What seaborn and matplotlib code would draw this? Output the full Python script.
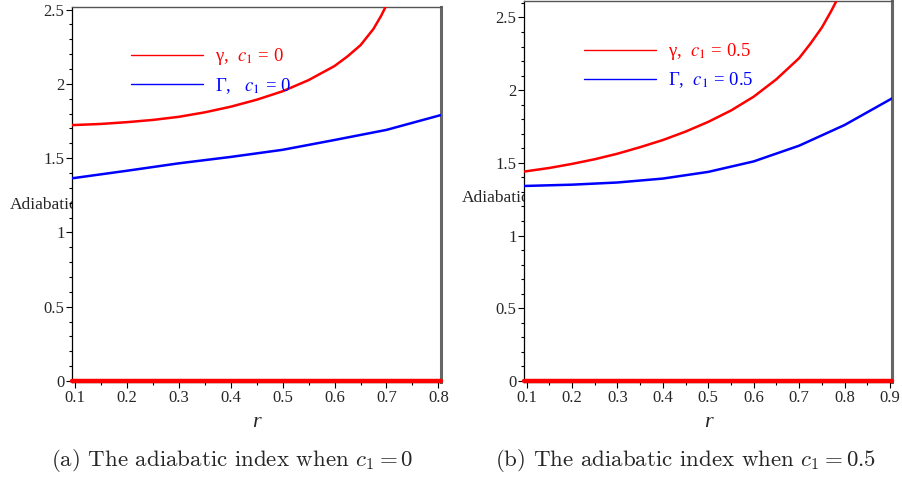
import numpy as np
import pandas as pd
import seaborn as sns
import matplotlib
matplotlib.use("Agg")
import matplotlib.pyplot as plt
from matplotlib.ticker import MultipleLocator

# ---- data ----
r_a = [0.094, 0.15, 0.2, 0.25, 0.3, 0.35, 0.4, 0.45, 0.5, 0.55, 0.6, 0.625, 0.65, 0.675, 0.69, 0.7]
gamma_a = [1.722, 1.730, 1.742, 1.757, 1.778, 1.808, 1.846, 1.893, 1.950, 2.025, 2.120, 2.185, 2.26, 2.37, 2.46, 2.53]
R_a = [0.094, 0.2, 0.3, 0.4, 0.5, 0.6, 0.7, 0.805]
Gamma_a = [1.364, 1.415, 1.465, 1.508, 1.556, 1.622, 1.690, 1.790]

r_b = [0.094, 0.15, 0.2, 0.25, 0.3, 0.35, 0.4, 0.45, 0.5, 0.55, 0.6, 0.65, 0.7, 0.725, 0.75, 0.77, 0.785]
gamma_b = [1.440, 1.465, 1.493, 1.525, 1.563, 1.608, 1.657, 1.715, 1.782, 1.860, 1.955, 2.075, 2.220, 2.320, 2.430, 2.540, 2.630]
R_b = [0.094, 0.2, 0.3, 0.4, 0.5, 0.6, 0.7, 0.8, 0.905]
Gamma_b = [1.341, 1.350, 1.365, 1.392, 1.438, 1.510, 1.618, 1.760, 1.944]

zero_x_a = [0.094, 0.805]
zero_x_b = [0.094, 0.905]
zero_y = [0.0, 0.0]

labels_a = [r"γ,  $c_1$ = 0", r"Γ,   $c_1$ = 0"]
labels_b = [r"γ,  $c_1$ = 0.5", r"Γ,  $c_1$ = 0.5"]
captions = [r"(a) The adiabatic index when $c_1 = 0$",
            r"(b) The adiabatic index when $c_1 = 0.5$"]
ylabel = "Adiabatic"
xlabel = "r"

sns.set_theme(style="white")
plt.rcParams["font.family"] = ["Liberation Serif", "DejaVu Serif"]
plt.rcParams["mathtext.fontset"] = "stix"

fig = plt.figure(figsize=(9.02, 4.8), dpi=100)
W, H = 902, 480

def px_axes(l, t, r, b):
    return fig.add_axes([l / W, 1 - b / H, (r - l) / W, (b - t) / H])

axA = px_axes(72, 7, 441, 382)
axB = px_axes(524, 1, 892, 382)

panels = [
    (axA, r_a, gamma_a, R_a, Gamma_a, zero_x_a, labels_a, (0.0942, 0.805), (-0.0067, 2.517), 0.8, (0.115, 0.94)),
    (axB, r_b, gamma_b, R_b, Gamma_b, zero_x_b, labels_b, (0.0941, 0.9046), (-0.0069, 2.613), 0.9, (0.118, 0.939)),
]

for ax, rx, g, Rx, G, zx, labs, xl, yl, xmax, lpos in panels:
    sns.lineplot(x=zx, y=zero_y, ax=ax, color="#ff0000", linewidth=3.2, zorder=5, clip_on=False)
    sns.lineplot(x=rx, y=g, ax=ax, color="#ff0000", linewidth=1.8, zorder=4)
    sns.lineplot(x=Rx, y=G, ax=ax, color="#0000ff", linewidth=1.8, zorder=4)
    ax.set_xlim(*xl)
    ax.set_ylim(*yl)
    xt = np.round(np.arange(0.1, xmax + 0.001, 0.1), 1)
    ax.set_xticks(xt)
    ax.set_xticklabels([f"{v:.1f}" for v in xt])
    ax.set_yticks([0, 0.5, 1, 1.5, 2, 2.5])
    ax.set_yticklabels(["0", "0.5", "1", "1.5", "2", "2.5"])
    ax.xaxis.set_minor_locator(MultipleLocator(0.05))
    ax.yaxis.set_minor_locator(MultipleLocator(0.1))
    ax.tick_params(axis="both", which="major", direction="out", length=4, width=0.8,
                   color="black", labelsize=12, pad=1.5, bottom=True, left=True)
    ax.tick_params(axis="both", which="minor", direction="out", length=2, width=0.8,
                   color="black", bottom=True, left=True)
    for s in ["left", "bottom"]:
        ax.spines[s].set_color("black")
        ax.spines[s].set_linewidth(0.9)
    ax.spines["top"].set_color("#555555")
    ax.spines["top"].set_linewidth(1.0)
    ax.spines["right"].set_color("#666666")
    ax.spines["right"].set_linewidth(2.2)
    ax.set_xlabel(xlabel, fontsize=16, style="italic", labelpad=5)
    ax.set_ylabel("")
    lines = ax.get_lines()
    handles = [lines[1], lines[2]]
    leg = ax.legend(handles, labs, loc="upper left", bbox_to_anchor=lpos, frameon=False,
                    fontsize=13.5, handlelength=3.8, handletextpad=0.69, labelspacing=0.45,
                    labelcolor=["#ff0000", "#0000ff"])
    for h in leg.legend_handles:
        h.set_linewidth(1.0)

# y-labels partly hidden behind the axes
fig.text(10 / W, 1 - 205 / H, ylabel, fontsize=12.5, va="center", ha="left", zorder=-1)
fig.text(462 / W, 1 - 198 / H, ylabel, fontsize=12.5, va="center", ha="left", zorder=-1)
axA.set_zorder(1)
axB.set_zorder(1)

for xc, cap in zip([232, 686], captions):
    fig.text(xc / W, 1 - 460 / H, cap, fontsize=16.5, ha="center", va="center",
             family=["cmr10", "DejaVu Serif"], math_fontfamily="cm")

fig.savefig("out.png", dpi=100)
